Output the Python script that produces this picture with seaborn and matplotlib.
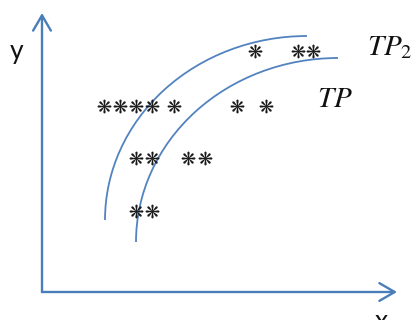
import matplotlib
matplotlib.use("Agg")
import matplotlib.pyplot as plt
from matplotlib.patches import Arc
import pandas as pd
import seaborn as sns

# -------------------------------------------------
# Data (origin = corner of the axes, units ~ pixels)
# -------------------------------------------------
star_x = [213, 256, 271,
          62, 78, 94, 110, 132, 195, 224,
          94, 110, 146, 163,
          94, 110]
star_y = [241, 241, 241,
          186, 186, 186, 186, 186, 186, 186,
          134, 134, 134, 134,
          81, 81]

curve_names = ["TP_2", "TP"]
curve_cx = [265, 296]
curve_cy = [72, 50]
curve_rx = [202, 202]
curve_ry = [184, 184]

BLUE = "#4a7ebb"

sns.set_theme(style="white")
plt.rcParams["font.family"] = ["Lato", "DejaVu Sans"]

fig = plt.figure(figsize=(4.14, 3.2), dpi=100)
ax = fig.add_axes([0, 0, 1, 1])
ax.set_xlim(-42, 372)
ax.set_ylim(-28, 292)
ax.axis("off")

# axes with open arrow heads
arrow = dict(arrowstyle="->,head_length=0.55,head_width=0.32",
             color=BLUE, lw=1.7, mutation_scale=20, shrinkA=0, shrinkB=0)
ax.annotate("", xy=(355, 0), xytext=(0, 0), arrowprops=arrow)
ax.annotate("", xy=(0, 279), xytext=(0, 0), arrowprops=arrow)

# two boundary curves
for cx, cy, rx, ry in zip(curve_cx, curve_cy, curve_rx, curve_ry):
    ax.add_patch(Arc((cx, cy), 2 * rx, 2 * ry, theta1=90, theta2=180,
                     color="#5283c0", lw=1.3))

# points
df = pd.DataFrame({"x": star_x, "y": star_y})
sns.scatterplot(data=df, x="x", y="y", marker="$\u274b$", s=100,
                color="#1a1a1a", linewidth=0, ax=ax, zorder=3)

ax.text(-25, 240, "y", fontsize=19, ha="center", va="center", color="#111111")
ax.text(339, -17, "x", fontsize=19, ha="center", va="top", color="#111111")
ax.text(325, 237, "$TP_2$", fontsize=21, math_fontfamily="stix",
        ha="left", va="baseline", color="#111111")
ax.text(275, 185, "$TP$", fontsize=21, math_fontfamily="stix",
        ha="left", va="baseline", color="#111111")

fig.savefig("out.png", dpi=100)
plt.close(fig)
